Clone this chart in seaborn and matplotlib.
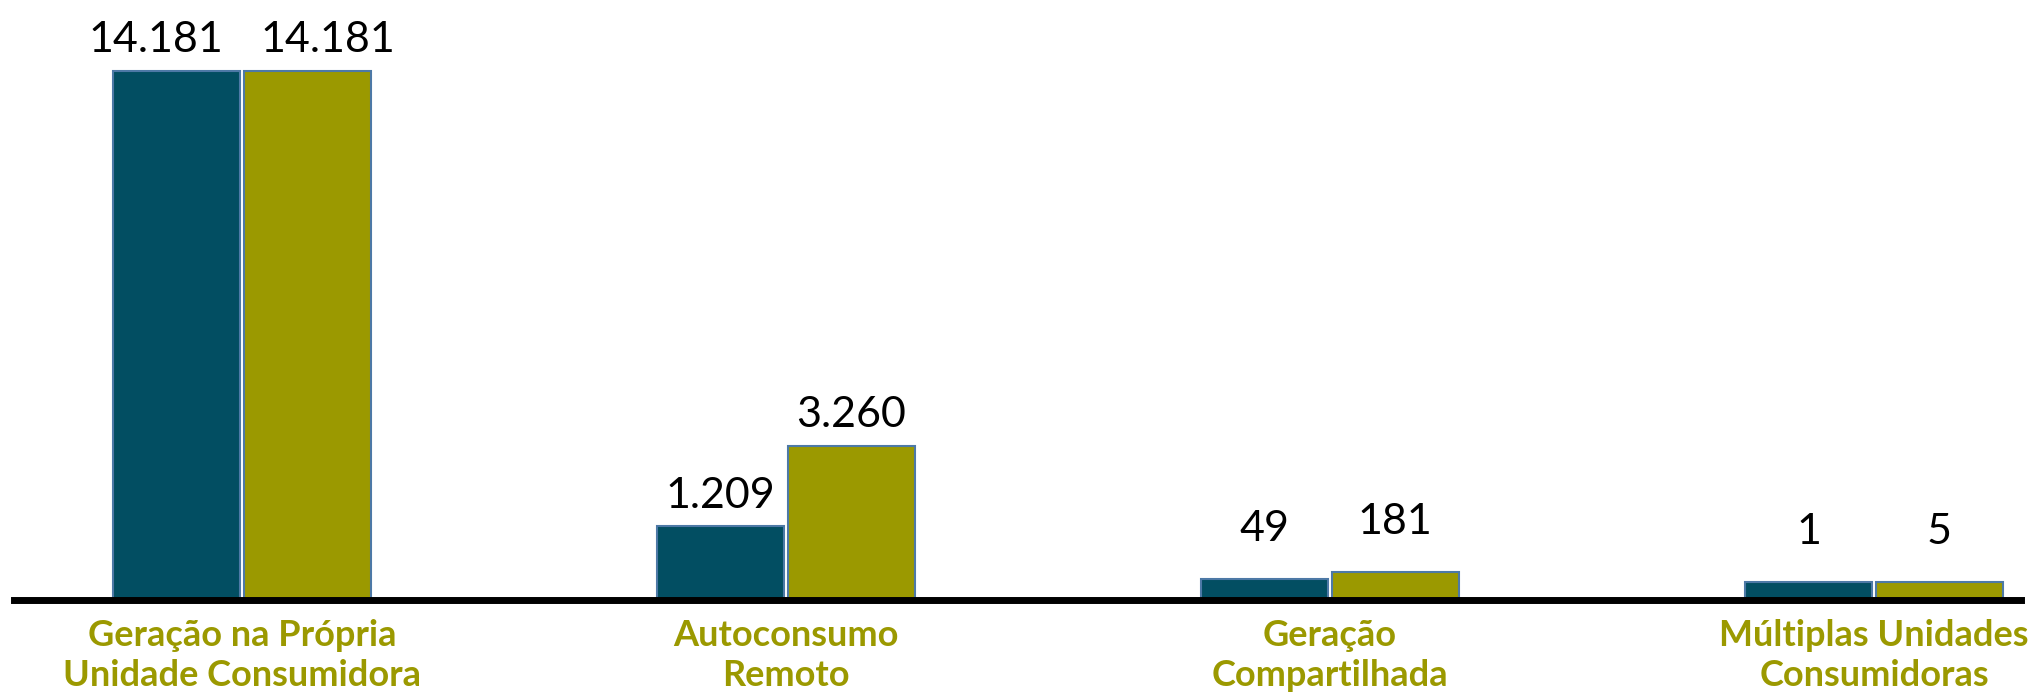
import numpy as np
import pandas as pd
import matplotlib
matplotlib.use("Agg")
import matplotlib.pyplot as plt
import seaborn as sns

# dados
categorias = ["Geração na Própria\nUnidade Consumidora", "Autoconsumo\nRemoto",
              "Geração\nCompartilhada", "Múltiplas Unidades\nConsumidoras"]
conexoes = [14181, 1209, 49, 1]
ucs_creditos = [14181, 3260, 181, 5]
series = ["Conexões", "UCs que recebem créditos"]

cores = ["#024E62", "#9B9900"]
cor_borda = "#4D79A6"
cor_texto = "#9B9900"

df = pd.DataFrame({
    "categoria": categorias * 2,
    "valor": conexoes + ucs_creditos,
    "serie": [series[0]] * 4 + [series[1]] * 4,
})

# escala comprimida: piso para valores pequenos + potência
A, P = 0.034, 0.9
B = (1 - A) / max(ucs_creditos) ** P


def fwd(v):
    v = np.asarray(v, dtype=float)
    with np.errstate(invalid="ignore"):
        return np.where(v > 0, A + B * np.clip(v, 0, None) ** P, v)


def inv(y):
    y = np.asarray(y, dtype=float)
    with np.errstate(invalid="ignore"):
        return np.where(y > A, (np.clip(y - A, 0, None) / B) ** (1 / P),
                        np.where(y > 0, 0.0, y))


sns.set_theme(style="white")
plt.rcParams["font.family"] = ["Lato", "DejaVu Sans"]

fig = plt.figure(figsize=(20.36, 6.98), dpi=100)
ax = fig.add_axes([14 / 2036, 98 / 698, 2007 / 2036, 600 / 698])

sns.barplot(data=df, x="categoria", y="valor", hue="serie", palette=cores,
            width=0.48, gap=0.03, edgecolor=cor_borda, linewidth=1.5,
            saturation=1, legend=False, ax=ax)

ax.set_yscale("function", functions=(fwd, inv))
ax.set_ylim(0, float(inv(600 / 529)))
ax.set_xlim(-0.419, 3.27)

# rótulos de valor
for i, cont in enumerate(ax.containers):
    for j, barra in enumerate(cont):
        h = barra.get_height()
        txt = f"{int(h):,}".replace(",", ".")
        pad = 13.5 if h >= 1000 else 27
        dx = 0
        if j == 0:  # rótulos largos do 1º grupo afastados
            dx = -15 if i == 0 else 15
        ax.annotate(txt, (barra.get_x() + barra.get_width() / 2, h),
                    xytext=(dx, pad), textcoords="offset points",
                    ha="center", va="baseline", fontsize=31, color="black")

ax.set_xlabel("")
ax.set_ylabel("")
ax.set_yticks([])
for s in ["top", "right", "left"]:
    ax.spines[s].set_visible(False)
ax.spines["bottom"].set_color("black")
ax.spines["bottom"].set_linewidth(5)
ax.spines["bottom"].set_zorder(5)
ax.tick_params(axis="x", length=0, pad=14)
for lbl in ax.get_xticklabels():
    lbl.set_color(cor_texto)
    lbl.set_fontweight("bold")
    lbl.set_fontsize(26)
    lbl.set_linespacing(1.25)

fig.savefig("out.png", dpi=100)
